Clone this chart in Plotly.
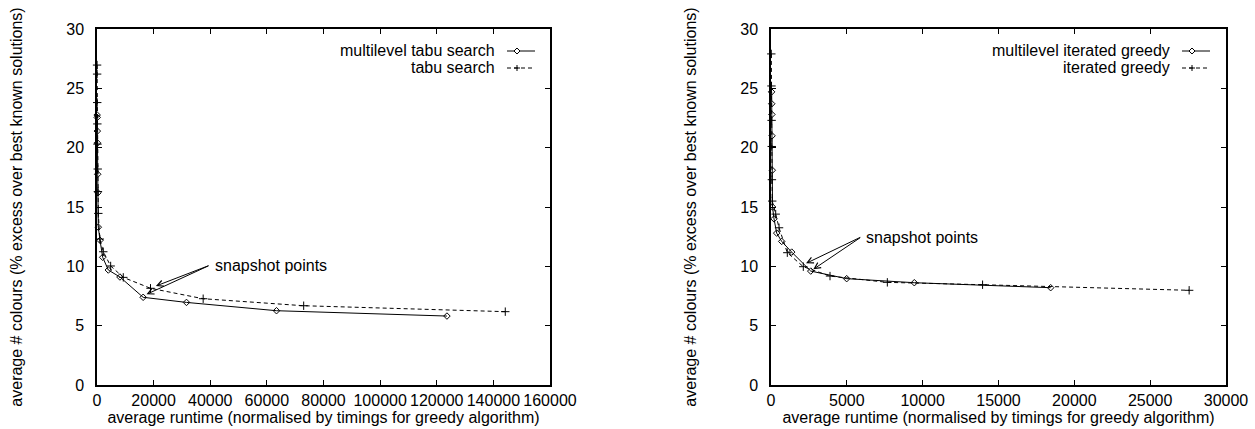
import plotly.graph_objects as go

W, H = 1255, 429

# ---------------- data ----------------
mts_x = [50, 80, 120, 170, 250, 330, 460, 1060, 2010, 4000, 8100, 16300, 31600, 63400, 123600]
mts_y = [22.75, 22.55, 21.4, 20.4, 17.76, 16.2, 13.3, 12.2, 10.76, 9.69, 9.1, 7.39, 6.96, 6.26, 5.81]

ts_x = [30, 50, 80, 120, 170, 250, 330, 460, 1000, 2220, 4830, 9280, 18900, 37500, 73000, 144200]
ts_y = [26.96, 26.2, 23.8, 22.0, 20.3, 18.2, 16.3, 14.46, 12.3, 11.23, 10.03, 9.07, 8.15, 7.27, 6.68, 6.18]

mig_x = [40, 50, 60, 70, 85, 100, 200, 375, 705, 1365, 2620, 4990, 9450, 18440]
mig_y = [24.7, 23.7, 22.8, 21.0, 18.1, 15.0, 14.0, 12.8, 12.1, 11.2, 9.6, 8.96, 8.62, 8.2]

ig_x = [20, 30, 40, 50, 60, 80, 310, 530, 1075, 2130, 3890, 7670, 13950, 27570]
ig_y = [27.9, 25.2, 22.3, 20.1, 17.3, 15.5, 14.4, 13.25, 11.15, 9.97, 9.18, 8.65, 8.45, 7.98]

left_xticks = [0, 20000, 40000, 60000, 80000, 100000, 120000, 140000, 160000]
right_xticks = [0, 5000, 10000, 15000, 20000, 25000, 30000]
yticks = [0, 5, 10, 15, 20, 25, 30]

left_names = ["multilevel tabu search", "tabu search"]
right_names = ["multilevel iterated greedy", "iterated greedy"]

left_snap = dict(text=(40900, 10.1), tail=(39900, 10.1), heads=[(17500, 7.64), (20800, 8.34)])
right_snap = dict(text=(6130, 12.4), tail=(5980, 12.5), heads=[(2310, 10.25), (2790, 9.75)])

XTITLE = "average runtime (normalised by timings for greedy algorithm)"
YTITLE = "average # colours (% excess over best known solutions)"

FONT = "Liberation Sans, Arial, Helvetica, sans-serif"
FS = 16

fig = go.Figure()

def solid(x, y, xa, ya, name):
    return go.Scatter(x=x, y=y, mode="lines+markers", name=name, xaxis=xa, yaxis=ya,
                      line=dict(color="black", width=1),
                      marker=dict(symbol="diamond-open", size=5, color="black", line=dict(width=1, color="black")),
                      cliponaxis=False, showlegend=False)

def dashed(x, y, xa, ya, name):
    return go.Scatter(x=x, y=y, mode="lines+markers", name=name, xaxis=xa, yaxis=ya,
                      line=dict(color="black", width=1, dash="4px,3px"),
                      marker=dict(symbol="cross-thin-open", size=6, color="black", line=dict(width=1, color="black")),
                      cliponaxis=False, showlegend=False)

fig.add_trace(solid(mts_x, mts_y, "x", "y", left_names[0]))
fig.add_trace(dashed(ts_x, ts_y, "x", "y", left_names[1]))
fig.add_trace(solid(mig_x, mig_y, "x2", "y2", right_names[0]))
fig.add_trace(dashed(ig_x, ig_y, "x2", "y2", right_names[1]))

ydom = [1 - 385 / H, 1 - 29 / H]
common = dict(showline=True, linecolor="black", linewidth=1.5, mirror="allticks", ticks="inside",
              ticklen=5, tickwidth=1, tickcolor="black", showgrid=False, zeroline=False, automargin=False,
              tickfont=dict(family=FONT, size=FS, color="black"))

fig.update_layout(
    width=W, height=H, margin=dict(l=0, r=0, t=0, b=0, autoexpand=False),
    paper_bgcolor="white", plot_bgcolor="white",
    font=dict(family=FONT, size=FS, color="black"),
    xaxis=dict(domain=[97 / W, 550 / W], range=[0, 160000], tickvals=left_xticks, tickformat="d",
               anchor="y", title=dict(text=XTITLE, standoff=0, font=dict(size=FS)), ticklabelstandoff=0, **common),
    yaxis=dict(domain=ydom, range=[0, 30], tickvals=yticks, anchor="x",
               title=dict(text=YTITLE, standoff=40, font=dict(size=FS)), ticklabelstandoff=8, **common),
    xaxis2=dict(domain=[771 / W, 1226 / W], range=[0, 30000], tickvals=right_xticks, tickformat="d",
                anchor="y2", title=dict(text=XTITLE, standoff=0, font=dict(size=FS)), ticklabelstandoff=0, **common),
    yaxis2=dict(domain=ydom, range=[0, 30], tickvals=yticks, anchor="x2",
                title=dict(text=YTITLE, standoff=40, font=dict(size=FS)), ticklabelstandoff=8, **common),
)

annotations = []
for snap, xr, yr in [(left_snap, "x", "y"), (right_snap, "x2", "y2")]:
    annotations.append(dict(x=snap["text"][0], y=snap["text"][1], xref=xr, yref=yr, text="snapshot points",
                            showarrow=False, xanchor="left", yanchor="middle",
                            font=dict(family=FONT, size=FS, color="black")))
    for hx, hy in snap["heads"]:
        annotations.append(dict(x=hx, y=hy, xref=xr, yref=yr, ax=snap["tail"][0], ay=snap["tail"][1],
                                axref=xr, ayref=yr, text="", showarrow=True, arrowhead=5,
                                arrowsize=1.2, arrowwidth=1, arrowcolor="black"))

shapes = []
def legend_block(names, text_right_px, sample_x0, sample_x1, marker_px, y_px_list):
    for i, (name, ypx) in enumerate(zip(names, y_px_list)):
        yp = 1 - ypx / H
        annotations.append(dict(x=text_right_px / W, y=yp, xref="paper", yref="paper", text=name,
                                showarrow=False, xanchor="right", yanchor="middle",
                                font=dict(family=FONT, size=FS, color="black")))
        shapes.append(dict(type="line", xref="paper", yref="paper", x0=sample_x0 / W, x1=sample_x1 / W,
                           y0=yp, y1=yp, line=dict(color="black", width=1, dash="solid" if i == 0 else "4px,3px")))
        mx = marker_px / W
        if i == 0:
            dx, dy = 3.0 / W, 3.0 / H
            path = f"M {mx-dx} {yp} L {mx} {yp+dy} L {mx+dx} {yp} L {mx} {yp-dy} Z"
            shapes.append(dict(type="path", xref="paper", yref="paper", path=path,
                               fillcolor="white", line=dict(color="black", width=1)))
        else:
            dx, dy = 3.0 / W, 3.0 / H
            shapes.append(dict(type="line", xref="paper", yref="paper", x0=mx - dx, x1=mx + dx, y0=yp, y1=yp,
                               line=dict(color="black", width=1)))
            shapes.append(dict(type="line", xref="paper", yref="paper", x0=mx, x1=mx, y0=yp - dy, y1=yp + dy,
                               line=dict(color="black", width=1)))

legend_block(left_names, 497, 507, 535, 517, [51, 68])
legend_block(right_names, 1172, 1182, 1210, 1192, [51, 68])

fig.update_layout(annotations=annotations, shapes=shapes)

fig.write_html("out.html")
